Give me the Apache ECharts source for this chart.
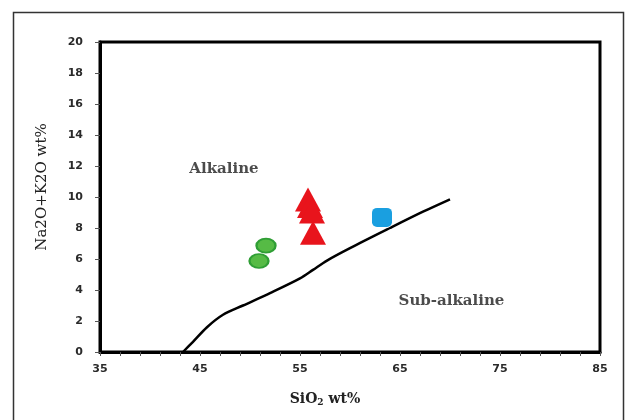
<!DOCTYPE html>
<html>
<head>
<meta charset="utf-8">
<script src="https://cdn.jsdelivr.net/npm/echarts@6/dist/echarts.min.js"></script>
<style>html,body{margin:0;padding:0;background:#fff;}#c{width:627px;height:420px;}</style>
</head>
<body>
<div id="c"></div>
<script>
// ---- data ----
const xTickLabels = [35, 45, 55, 65, 75, 85];
const xMinorTicks = [35, 37, 39, 41, 43, 45, 47, 49, 51, 53, 55, 57, 59, 61, 63, 65, 67, 69, 71, 73, 75, 77, 79, 81, 83, 85];
const yTickLabels = [0, 2, 4, 6, 8, 10, 12, 14, 16, 18, 20];

const boundarySiO2 = [43.3, 44.3, 45.7, 47.3, 49.3, 52.0, 55.0, 56.3, 57.7, 60.0, 64.0, 67.3, 70.0];
const boundaryAlk  = [0.0, 0.66, 1.6, 2.4, 3.0, 3.8, 4.75, 5.3, 5.9, 6.7, 8.0, 9.05, 9.85];

const greenSiO2 = [51.6, 50.9];
const greenAlk  = [6.86, 5.87];
const redSiO2 = [55.8, 56.0, 56.2, 56.3];
const redAlk  = [9.84, 9.42, 9.06, 7.7];
const blueSiO2 = [63.2];
const blueAlk  = [8.68];

const regionNames = ['Alkaline', 'Sub-alkaline'];
const regionSiO2  = [47.4, 70.15];
const regionAlk   = [11.8, 3.3];

const zip = (xs, ys) => xs.map((x, i) => [x, ys[i]]);

const chart = echarts.init(document.getElementById('c'), null, {renderer: 'canvas'});
const tickFont = {fontFamily: 'DejaVu Sans', fontWeight: 'bold', fontSize: 11, color: '#2a2a2a'};
chart.setOption({
  animation: false,
  backgroundColor: '#fff',
  grid: {left: 100, right: 27, top: 42, bottom: 68, show: true, borderColor: '#000', borderWidth: 3, backgroundColor: '#fff'},
  graphic: [{
    type: 'rect', silent: true, z: -10,
    shape: {x: 13.5, y: 12.5, width: 610, height: 430},
    style: {fill: null, stroke: '#333', lineWidth: 1.5}
  }],
  xAxis: {
    type: 'value', min: 35, max: 85,
    name: 'SiO{sub|2} wt%', nameLocation: 'middle', nameGap: 40,
    nameTextStyle: {fontFamily: 'DejaVu Serif', fontWeight: 'bold', fontSize: 14, color: '#222', padding: [0, 50, 0, 0],
      rich: {sub: {fontFamily: 'DejaVu Serif', fontWeight: 'bold', fontSize: 9, verticalAlign: 'bottom', padding: [6, 0, 0, 0], color: '#222'}}},
    axisLine: {show: true, onZero: false, lineStyle: {color: '#000', width: 3}},
    axisTick: {show: true, customValues: xMinorTicks, length: 4, lineStyle: {color: '#555', width: 1}},
    axisLabel: {customValues: xTickLabels, margin: 12, ...tickFont},
    splitLine: {show: false}
  },
  yAxis: {
    type: 'value', min: 0, max: 20, interval: 2,
    name: 'Na2O+K2O wt%', nameLocation: 'middle', nameGap: 50,
    nameTextStyle: {fontFamily: 'DejaVu Serif', fontSize: 15, color: '#222', padding: [0, 0, 0, 20]},
    axisLine: {show: true, onZero: false, lineStyle: {color: '#000', width: 3}},
    axisTick: {show: true, length: 5, lineStyle: {color: '#555', width: 1}},
    axisLabel: {margin: 17, ...tickFont},
    splitLine: {show: false}
  },
  series: [
    {
      type: 'line', name: 'boundary', data: zip(boundarySiO2, boundaryAlk),
      smooth: 0.3, symbol: 'none', lineStyle: {color: '#000', width: 2.5}, z: 3
    },
    {
      type: 'scatter', name: 'green', data: zip(greenSiO2, greenAlk),
      symbol: 'circle', symbolSize: [19, 14],
      itemStyle: {color: '#56bb45', borderColor: '#2f9e35', borderWidth: 2, opacity: 1}, z: 4
    },
    {
      type: 'scatter', name: 'red', data: zip(redSiO2, redAlk),
      symbol: 'triangle', symbolSize: [26, 24],
      itemStyle: {color: '#e8141c', opacity: 1}, z: 4
    },
    {
      type: 'scatter', name: 'blue', data: zip(blueSiO2, blueAlk),
      symbol: 'roundRect', symbolSize: [20, 19],
      itemStyle: {color: '#1a9fe0', opacity: 1}, z: 4
    },
    {
      type: 'scatter', name: 'regions', silent: true,
      data: regionNames.map((n, i) => ({name: n, value: [regionSiO2[i], regionAlk[i]]})),
      symbolSize: 0,
      label: {show: true, position: 'inside', formatter: p => p.name,
        fontFamily: 'DejaVu Serif', fontWeight: 'bold', fontSize: 15, color: '#1e1e1e'}, z: 5
    }
  ]
});
</script>
</body>
</html>
